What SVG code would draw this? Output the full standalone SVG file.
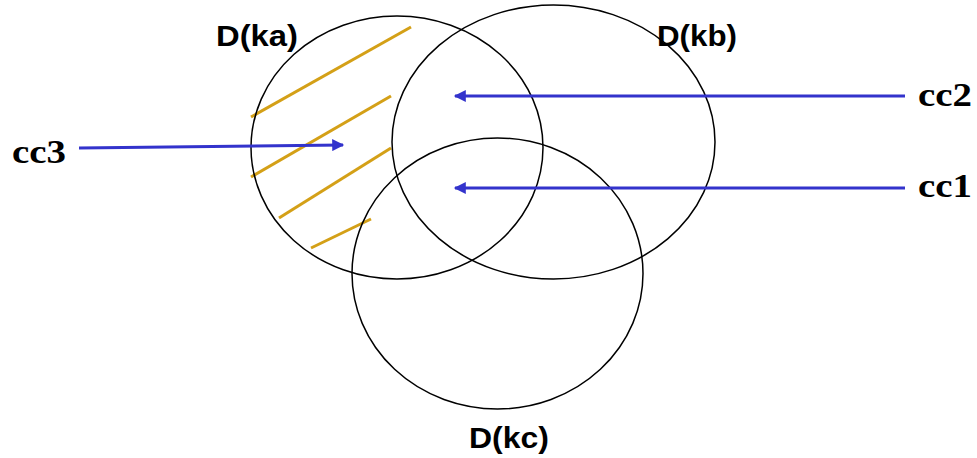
<svg xmlns="http://www.w3.org/2000/svg" width="977" height="458" viewBox="0 0 977 458">
<defs>
<style>
.set{fill:none;stroke:#000;stroke-width:1.5}
.hatch{stroke:#D4A017;stroke-width:3;fill:none}
.arr{stroke:#3333CC;stroke-width:3;fill:none;marker-end:url(#ah)}
.lbl{font-family:"Liberation Sans",Arial,sans-serif;font-weight:bold;font-size:30px;fill:#000}
.cc{font-family:"Liberation Serif","Times New Roman",serif;font-weight:bold;font-size:33px;fill:#000}
</style>
<marker id="ah" viewBox="0 0 10 10" refX="9" refY="5" markerWidth="4.5" markerHeight="4" orient="auto" markerUnits="strokeWidth">
<path d="M0,0 L10,5 L0,10 z" fill="#3333CC"/>
</marker>
</defs>
<rect width="977" height="458" fill="#fff"/>
<g id="hatching">
<line class="hatch" x1="251" y1="117" x2="411" y2="27"/>
<line class="hatch" x1="251" y1="177" x2="391" y2="96"/>
<line class="hatch" x1="279" y1="218" x2="391" y2="148"/>
<line class="hatch" x1="311" y1="248" x2="371" y2="219"/>
</g>
<g id="ka">
<ellipse class="set" cx="397" cy="147.5" rx="146" ry="131.5"/>
<text class="lbl" x="216" y="46" textLength="82" lengthAdjust="spacingAndGlyphs">D(ka)</text>
</g>
<g id="kb">
<ellipse class="set" cx="553.5" cy="142" rx="161.5" ry="137"/>
<text class="lbl" x="657" y="46" textLength="80" lengthAdjust="spacingAndGlyphs">D(kb)</text>
</g>
<g id="kc">
<ellipse class="set" cx="497.5" cy="273.5" rx="145.5" ry="135.5"/>
<text class="lbl" x="469" y="448" textLength="80" lengthAdjust="spacingAndGlyphs">D(kc)</text>
</g>
<g id="cc3"><text class="cc" x="12" y="163" textLength="54" lengthAdjust="spacingAndGlyphs">cc3</text></g>
<g id="cc2"><text class="cc" x="918" y="106" textLength="54" lengthAdjust="spacingAndGlyphs">cc2</text></g>
<g id="cc1"><text class="cc" x="918" y="197" textLength="54" lengthAdjust="spacingAndGlyphs">cc1</text></g>
<g id="connectors">
<line class="arr" x1="79" y1="148" x2="343" y2="145"/>
<line class="arr" x1="905" y1="96" x2="455" y2="96"/>
<line class="arr" x1="905" y1="188" x2="455" y2="188"/>
</g>
</svg>
